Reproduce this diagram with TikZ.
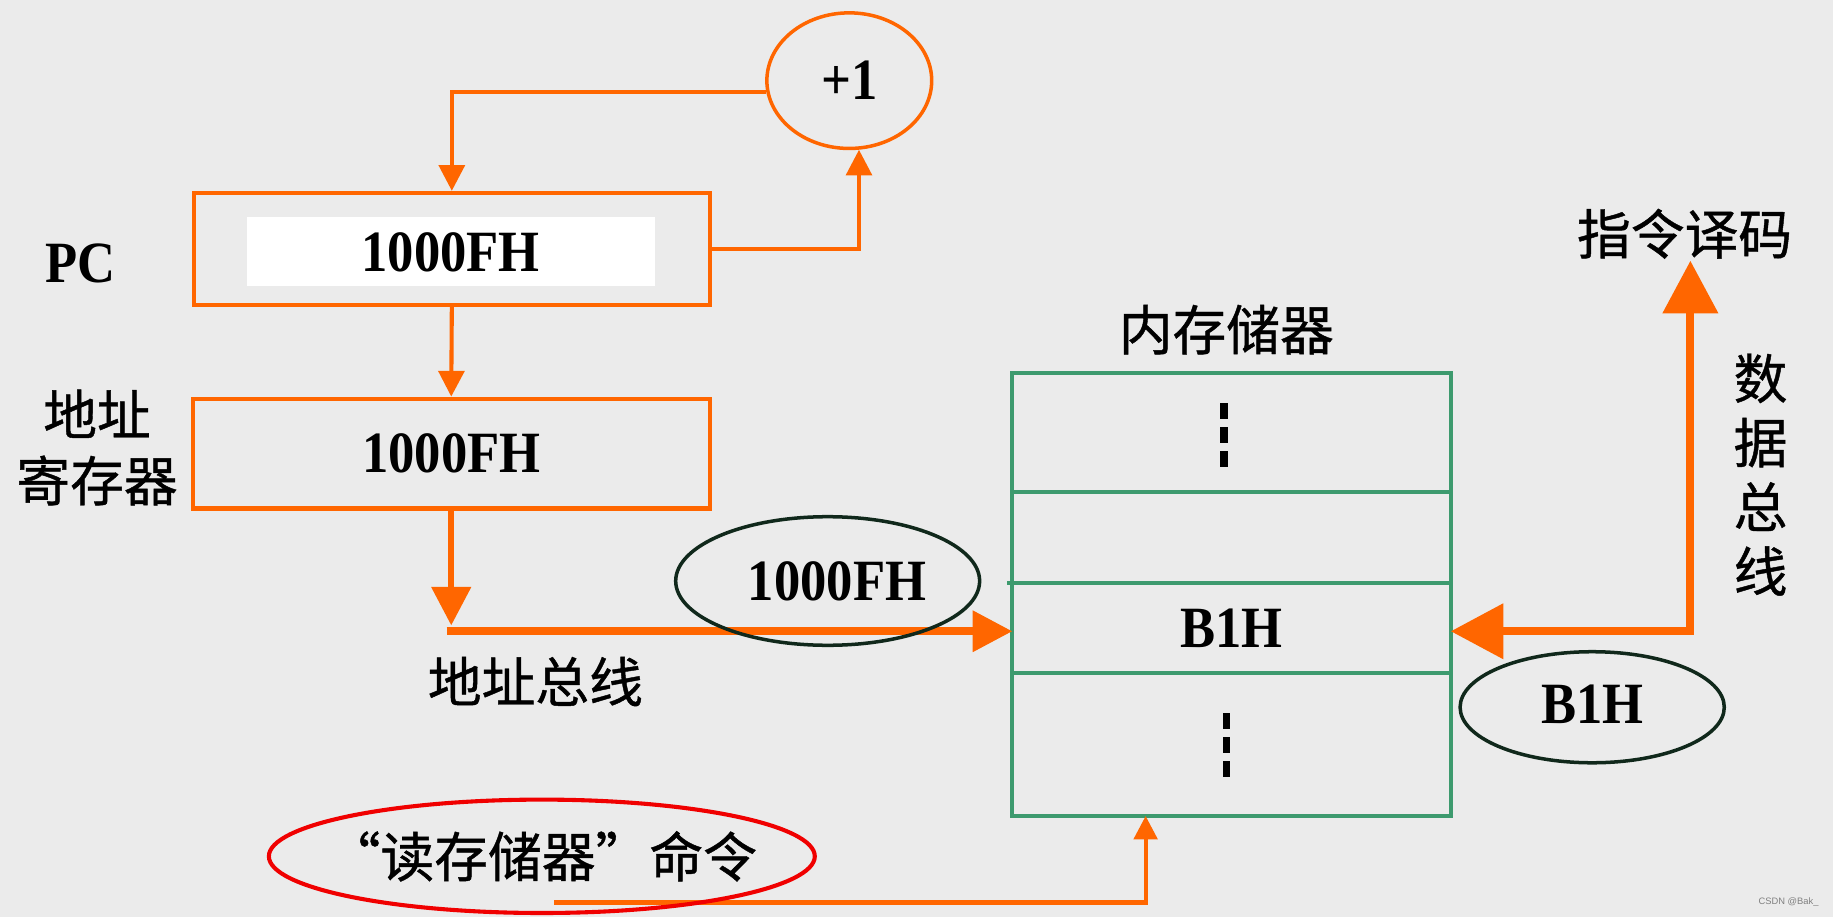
\documentclass[tikz,border=0pt]{standalone}
\usepackage{fontspec}
\newfontfamily\tnr[FakeStretch=0.9]{Liberation Serif}
\newfontfamily\cjk[FakeBold=0.8]{Noto Sans CJK SC}
\newfontfamily\wmfont{Liberation Sans}
\usetikzlibrary{arrows.meta,shapes.geometric,calc}
\definecolor{orng}{HTML}{FF6600}
\definecolor{memgreen}{HTML}{3D9A6E}
\definecolor{dk}{HTML}{10281B}
\definecolor{bgc}{HTML}{EBEBEB}
\definecolor{redc}{HTML}{F00000}
\tikzset{
  latin/.style={font=\tnr\bfseries\fontsize{50}{56}\selectfont, inner sep=0pt},
  zh/.style={font=\cjk\fontsize{46}{55}\selectfont, inner sep=0pt},
  regbox/.style={draw=orng, line width=3.5pt, rectangle, inner sep=0pt},
  oline/.style={draw=orng, line width=3.5pt},
  thinarrow/.style={-{Triangle[width=22pt,length=22pt]}},
  busline/.style={draw=orng, line width=6.5pt},
  memcell/.style={draw=memgreen, line width=3.5pt, rectangle, minimum width=375pt, inner sep=0pt, outer sep=0pt},
  darkell/.style={ellipse, draw=dk, line width=3pt, inner sep=0pt},
  dashmark/.style={draw=black, line width=6.5pt, dash pattern=on 13.5pt off 7pt}
}
\begin{document}
\begin{tikzpicture}[x=1pt,y=-1pt]
\useasboundingbox (0,0) rectangle (1568,784);
\fill[bgc] (0,0) rectangle (1568,784);

% PC register
\node[regbox, minimum width=441pt, minimum height=96pt] (pc) at (386.5,213) {};
\node[fill=white, minimum width=349pt, minimum height=59pt, latin] (pcval) at (385.5,215.5) {\raisebox{-2pt}{1000FH}};
\node[latin] (pclabel) at (69,225) {PC};

% +1
\node[ellipse, draw=orng, line width=3pt, minimum width=141pt, minimum height=116pt, latin] (plus) at (726.5,69) {\makebox[0pt]{\raisebox{-7pt}{+1}}};

% address register
\node[regbox, minimum width=442pt, minimum height=94pt, latin] (areg) at (386,388) {\raisebox{-2pt}{1000FH}};
\node[zh] (al1) at (83,354) {地址};
\node[zh] (al2) at (83,411) {寄存器};

% memory
\node[memcell, minimum height=102pt] (cell1) at (1053.5,370) {};
\node[memcell, minimum height=78pt] (cell2) at (1053.5,460) {};
\node[memcell, minimum height=77pt, latin] (cell3) at (1053.5,537.5) {B1H};
\node[memcell, minimum height=122pt] (cell4) at (1053.5,637) {};
\draw[draw=memgreen, line width=3.5pt] (cell3.north west) -- ++(-5,0);
\draw[dashmark] (1047,345) -- (1047,400);
\draw[dashmark] (1049,610) -- (1049,665);
\node[zh] (memlabel) at (1049,282) {内存储器};

% loop connectors
\draw[oline, thinarrow] (plus.188) -| (pc.north);
\draw[oline, thinarrow] (pc.east) -| (plus.-82);
\draw[oline, thinarrow] (pc.south) -- (areg.north);

% address bus
\coordinate (abtip) at (386,535);
\coordinate (busstart) at (382,540);
\draw[draw=orng, line width=5.5pt, -{Triangle[width=33pt,length=33pt]}] (areg.south) -- (abtip);
\draw[busline, -{Triangle[width=34pt,length=34pt]}] (busstart) -- (busstart -| cell3.west);
\node[zh] (ablabel) at (458,583) {地址总线};
\node[darkell, minimum width=260pt, minimum height=110pt, latin] (abell) at (708,497) {\makebox[0pt]{\hspace{16pt}\raisebox{-8pt}{1000FH}}};

% data bus
\node[zh] (ddec) at (1441,200) {指令译码};
\coordinate (dcorner) at (1446,540);
\coordinate (dtop) at (1446,223);
\draw[draw=orng, line width=7pt, {Triangle[width=46pt,length=45pt]}-{Triangle[width=46pt,length=45pt]}] (cell3.east |- dcorner) -- (dcorner) -- (dtop);
\node[zh, align=center] (dbus) at (1506,406) {数\\据\\总\\线};
\node[darkell, minimum width=226pt, minimum height=95pt, latin] (bdell) at (1362,605) {\makebox[0pt]{\raisebox{6pt}{B1H}}};

% read command
\coordinate (rcstart) at (474,772);
\draw[oline, -{Triangle[width=20pt,length=20pt]}] (rcstart) -| ([xshift=-73.5pt]cell4.south);
\node[ellipse, draw=redc, line width=3.5pt, minimum width=467pt, minimum height=97pt, zh] (rdell) at (463.5,732.5) {\makebox[0pt]{\raisebox{-5.5pt}{“读存储器”命令}}};

% watermark
\node[font=\wmfont\fontsize{8}{9}\selectfont, text=gray, inner sep=0pt] (wm) at (1530,772) {CSDN @Bak\_};
\end{tikzpicture}
\end{document}
